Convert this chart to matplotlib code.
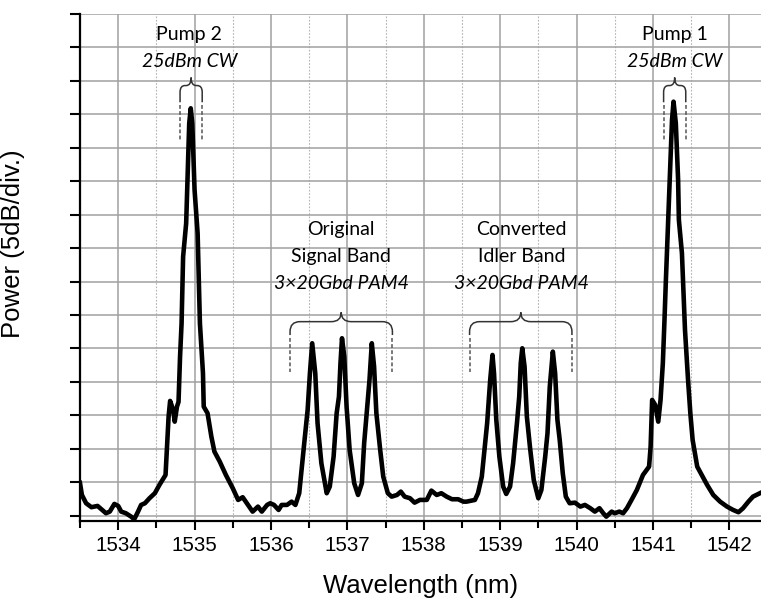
import matplotlib
matplotlib.use("Agg")
import matplotlib.pyplot as plt
from matplotlib.path import Path
from matplotlib.patches import PathPatch

# optical spectrum (wavelength in nm, power in dB, 5 dB per division)
wavelength = [1533.50, 1533.525, 1533.58, 1533.65, 1533.69, 1533.73, 1533.78, 1533.84, 1533.89, 1533.95,
              1534.00, 1534.04, 1534.10, 1534.17, 1534.21, 1534.26, 1534.30, 1534.35, 1534.41, 1534.48,
              1534.54, 1534.62, 1534.64, 1534.66, 1534.68, 1534.72, 1534.74, 1534.77, 1534.79, 1534.81,
              1534.83, 1534.85, 1534.89, 1534.91, 1534.93, 1534.95, 1534.97, 1535.00, 1535.04, 1535.07,
              1535.11, 1535.12, 1535.17, 1535.22, 1535.26, 1535.33, 1535.41, 1535.50, 1535.57, 1535.63,
              1535.70, 1535.76, 1535.83, 1535.88, 1535.95, 1535.99, 1536.04, 1536.10, 1536.14, 1536.21,
              1536.27, 1536.32, 1536.37, 1536.40, 1536.44, 1536.48, 1536.51, 1536.54, 1536.58, 1536.61,
              1536.66, 1536.73, 1536.77, 1536.82, 1536.86, 1536.89, 1536.91, 1536.93, 1536.96, 1536.99,
              1537.03, 1537.09, 1537.14, 1537.19, 1537.22, 1537.25, 1537.29, 1537.32, 1537.35, 1537.38,
              1537.43, 1537.47, 1537.53, 1537.58, 1537.65, 1537.70, 1537.75, 1537.82, 1537.88, 1537.95,
              1538.04, 1538.10, 1538.17, 1538.23, 1538.30, 1538.37, 1538.45, 1538.52, 1538.56, 1538.67,
              1538.71, 1538.76, 1538.80, 1538.83, 1538.87, 1538.90, 1538.92, 1538.95, 1538.99, 1539.04,
              1539.08, 1539.13, 1539.17, 1539.22, 1539.25, 1539.27, 1539.29, 1539.32, 1539.35, 1539.39,
              1539.44, 1539.50, 1539.54, 1539.59, 1539.62, 1539.65, 1539.69, 1539.72, 1539.75, 1539.78,
              1539.82, 1539.86, 1539.91, 1539.98, 1540.05, 1540.11, 1540.18, 1540.24, 1540.30, 1540.35,
              1540.39, 1540.46, 1540.50, 1540.56, 1540.61, 1540.66, 1540.72, 1540.79, 1540.87, 1540.95,
              1540.97, 1540.99, 1541.03, 1541.07, 1541.10, 1541.13, 1541.15, 1541.17, 1541.19, 1541.22,
              1541.25, 1541.27, 1541.30, 1541.33, 1541.34, 1541.38, 1541.42, 1541.46, 1541.49, 1541.52,
              1541.58, 1541.64, 1541.71, 1541.79, 1541.88, 1541.97, 1542.05, 1542.12, 1542.18, 1542.25,
              1542.31, 1542.40]
power_db = [4.89, 3.09, 1.85, 1.26, 1.35, 1.45, 0.96, 0.36, 0.60, 1.75,
            1.45, 0.60, 0.36, -0.15, -0.54, 0.60, 1.60, 1.85, 2.60, 3.35,
            4.59, 6.08, 10.31, 14.80, 17.15, 15.80, 14.05, 16.30, 17.00, 23.77,
            28.76, 38.72, 43.71, 51.19, 58.66, 60.90, 58.66, 48.69, 42.22, 28.76,
            21.29, 16.29, 15.31, 11.81, 9.57, 8.07, 6.08, 4.10, 2.35, 2.75,
            1.60, 0.60, 1.35, 0.60, 1.60, 1.85, 1.60, 0.85, 1.60, 1.60,
            2.09, 1.60, 3.35, 6.83, 11.32, 15.80, 21.29, 25.77, 21.29, 13.81,
            7.83, 3.35, 4.34, 8.82, 15.31, 17.79, 22.78, 26.52, 23.77, 16.29,
            9.82, 4.84, 3.09, 4.84, 10.82, 14.80, 20.29, 25.77, 22.27, 15.31,
            9.82, 5.83, 3.35, 2.84, 3.09, 3.59, 2.84, 2.60, 1.94, 2.35,
            2.35, 3.74, 3.09, 3.35, 2.84, 2.45, 2.45, 2.09, 2.09, 2.35,
            3.35, 5.83, 10.31, 13.81, 20.29, 24.02, 21.29, 14.31, 8.82, 4.34,
            3.24, 4.34, 7.83, 13.81, 17.79, 22.78, 25.02, 22.27, 14.80, 10.31,
            5.34, 2.60, 3.84, 8.82, 12.32, 19.28, 24.52, 21.29, 14.31, 11.32,
            6.34, 2.84, 1.85, 1.94, 1.35, 1.60, 1.11, 0.60, 1.11, 0.36,
            -0.15, 0.60, 0.36, 0.60, 0.36, 1.11, 2.35, 3.84, 6.08, 7.33,
            10.31, 17.30, 16.55, 14.05, 17.30, 22.78, 28.76, 35.23, 41.21, 50.18,
            59.15, 61.89, 58.66, 50.18, 44.20, 39.22, 27.76, 20.29, 15.31, 11.32,
            7.33, 6.08, 4.59, 3.09, 2.09, 1.35, 0.85, 0.51, 1.11, 2.09,
            2.84, 3.35]

x_ticks = [1534, 1535, 1536, 1537, 1538, 1539, 1540, 1541, 1542]
x_minor = [1533.5, 1534.5, 1535.5, 1536.5, 1537.5, 1538.5, 1539.5, 1540.5, 1541.5]
y_ticks = list(range(0, 80, 5))

pump_names = ["Pump 2", "Pump 1"]
pump_power = ["25dBm CW", "25dBm CW"]
band_names = [["Original", "Signal Band"], ["Converted", "Idler Band"]]
band_format = ["3×20Gbd PAM4", "3×20Gbd PAM4"]

plt.rcParams["font.family"] = ["Liberation Sans", "DejaVu Sans"]

fig = plt.figure(figsize=(7.61, 6.0), dpi=100)
ax = fig.add_axes([0.1051, 0.1317, 0.8949, 0.845])

ax.plot(wavelength, power_db, color="black", lw=3.3, solid_joinstyle="round", zorder=3)

ax.set_xlim(1533.5, 1542.415)
ax.set_ylim(-0.8, 75)
ax.set_xticks(x_ticks)
ax.set_xticks(x_minor, minor=True)
ax.set_yticks(y_ticks)
ax.set_yticklabels([])
ax.grid(True, which="major", color="#a0a0a0", lw=1.1)
ax.grid(True, which="minor", axis="x", color="#b4b4b4", lw=0.8, ls=(0, (1.5, 1.5)))
ax.set_axisbelow(True)

for s in ["top", "right"]:
    ax.spines[s].set_visible(False)
for s in ["left", "bottom"]:
    ax.spines[s].set_linewidth(1.6)
ax.tick_params(axis="y", which="major", direction="out", length=7, width=1.5)
ax.tick_params(axis="x", which="major", direction="out", length=6.5, width=1.5, labelsize=14.8, pad=4)
ax.tick_params(axis="x", which="minor", direction="out", length=5, width=1.5)

ax.set_xlabel("Wavelength (nm)", fontsize=18.5, labelpad=14)
ax.set_ylabel("Power (5dB/div.)", fontsize=18.5, labelpad=14)
ax.yaxis.set_label_coords(-0.08, 0.546)


def brace(xl, xr, xm, y_tip, y_bar, y_foot, y_dash, rx, ry):
    verts = [(xl, y_foot), (xl, y_bar - ry), (xl, y_bar), (xl + rx, y_bar),
             (xm - rx, y_bar), (xm, y_bar), (xm, y_tip),
             (xm, y_bar), (xm + rx, y_bar), (xr - rx, y_bar),
             (xr, y_bar), (xr, y_bar - ry), (xr, y_foot)]
    codes = [Path.MOVETO, Path.LINETO, Path.CURVE3, Path.CURVE3,
             Path.LINETO, Path.CURVE3, Path.CURVE3,
             Path.CURVE3, Path.CURVE3, Path.LINETO,
             Path.CURVE3, Path.CURVE3, Path.LINETO]
    ax.add_patch(PathPatch(Path(verts, codes), fill=False, ec="#333333", lw=1.1, zorder=4))
    for x in (xl, xr):
        ax.plot([x, x], [y_foot - 0.4, y_dash], color="#555555", lw=1.1,
                ls=(0, (2.5, 1.5)), zorder=4)


brace(1534.81, 1535.10, 1534.955, 65.5, 64.3, 61.8, 56.2, 0.065, 1.0)
brace(1541.14, 1541.43, 1541.285, 65.5, 64.3, 61.8, 56.2, 0.065, 1.0)
brace(1536.25, 1537.59, 1536.92, 30.4, 29.0, 27.0, 21.5, 0.13, 1.5)
brace(1538.60, 1539.94, 1539.27, 30.4, 29.0, 27.0, 21.5, 0.13, 1.5)

anno_font = ["Lato", "DejaVu Sans"]
for xc, name, pw in zip([1534.93, 1541.285], pump_names, pump_power):
    ax.text(xc, 71.1, name, ha="center", va="baseline", fontsize=14, family=anno_font)
    ax.text(xc, 67.1, pw, ha="center", va="baseline", fontsize=14, style="italic", family=anno_font)

for xc, names, fmt in zip([1536.92, 1539.28], band_names, band_format):
    ax.text(xc, 41.95, names[0], ha="center", va="baseline", fontsize=14, family=anno_font)
    ax.text(xc, 37.9, names[1], ha="center", va="baseline", fontsize=14, family=anno_font)
    ax.text(xc, 33.9, fmt, ha="center", va="baseline", fontsize=14, style="italic", family=anno_font)

fig.savefig("out.png", dpi=100)
